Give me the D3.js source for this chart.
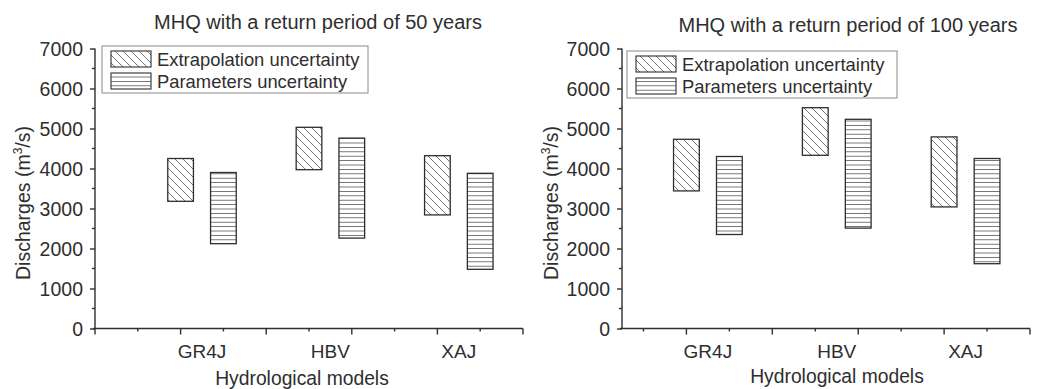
<!DOCTYPE html>
<html><head><meta charset="utf-8">
<script src="https://cdn.jsdelivr.net/npm/d3@7"></script>
<style>
body{margin:0;background:#fff;}
svg{display:block;font-family:"Liberation Sans",Arial,sans-serif;}
</style></head>
<body><svg id="c" width="1045" height="389"></svg>
<script>
const models = ["GR4J", "HBV", "XAJ"];
const seriesNames = ["Extrapolation uncertainty", "Parameters uncertainty"];
const yTicks = [0, 1000, 2000, 3000, 4000, 5000, 6000, 7000];
// 50-year return period
const ext50Low  = [3180, 3970, 2840];
const ext50High = [4250, 5030, 4320];
const par50Low  = [2120, 2260, 1480];
const par50High = [3900, 4760, 3880];
// 100-year return period
const ext100Low  = [3440, 4330, 3040];
const ext100High = [4730, 5520, 4790];
const par100Low  = [2350, 2510, 1620];
const par100High = [4300, 5230, 4250];

const svg = d3.select("#c");
const defs = svg.append("defs");
const ink = "#2e2e2e";
const hatchCol = "#666";

const pd = defs.append("pattern").attr("id","diag").attr("patternUnits","userSpaceOnUse")
  .attr("width",8).attr("height",8);
pd.append("path").attr("d","M-2,-2 L10,10 M-6,2 L2,10 M6,-2 L14,6")
  .attr("stroke",hatchCol).attr("stroke-width",0.9).attr("fill","none");
const ph = defs.append("pattern").attr("id","horiz").attr("patternUnits","userSpaceOnUse")
  .attr("width",8).attr("height",4.4);
ph.append("path").attr("d","M0,2.2 L8,2.2").attr("stroke",hatchCol).attr("stroke-width",0.9);

function panel(cfg){
  const g = svg.append("g");
  const x = d3.scaleLinear().domain(cfg.xDomain).range([cfg.x0, cfg.x1]);
  const y = d3.scaleLinear().domain([0, 7000]).range([cfg.yBottom, cfg.yTop]);

  // y axis
  const ya = g.append("g").attr("transform",`translate(${cfg.x0},0)`)
    .call(d3.axisLeft(y).tickValues(yTicks).tickSize(5).tickPadding(7).tickFormat(d3.format("d")));
  ya.select(".domain").attr("d",`M0,${y(7000)}V${y(0)}`);
  const yMinor = d3.range(500, 7000, 1000);
  ya.selectAll(".minor").data(yMinor).enter().append("line").attr("class","minor")
    .attr("x1",-3).attr("x2",0).attr("y1",d=>y(d)).attr("y2",d=>y(d));
  ya.attr("font-size",null).attr("font-family",null);
  ya.selectAll("text").attr("font-size",19.5).attr("fill",ink).attr("dy","0.35em");

  // x axis
  const xt = d3.range(Math.ceil(cfg.xDomain[0]), Math.floor(cfg.xDomain[1])+1);
  const xa = g.append("g").attr("transform",`translate(0,${cfg.yBottom})`);
  xa.append("path").attr("d",`M${cfg.x0-2},0H${cfg.x1}`);
  xa.selectAll("line").data(xt).enter().append("line")
    .attr("x1",d=>x(d)).attr("x2",d=>x(d)).attr("y1",0).attr("y2",d=>d%2===0?6:3);

  [ya, xa].forEach(a=>{
    a.selectAll("path,line").attr("stroke",ink).attr("stroke-width",1.4).attr("fill","none");
  });

  // category labels
  g.selectAll(".cat").data(models).enter().append("text")
    .attr("x",(d,i)=>x(2.5+3*i)).attr("y",cfg.yBottom+29)
    .attr("text-anchor","middle").attr("font-size",19).attr("fill",ink).text(d=>d);

  const bw = 0.6;
  function bars(lo, hi, off, pat){
    g.selectAll(null).data(models).enter().append("rect")
      .attr("x",(d,i)=>x(off+3*i-bw/2))
      .attr("width",(d,i)=>x(off+3*i+bw/2)-x(off+3*i-bw/2))
      .attr("y",(d,i)=>y(hi[i]))
      .attr("height",(d,i)=>y(lo[i])-y(hi[i]))
      .attr("fill",`url(#${pat})`).attr("stroke",ink).attr("stroke-width",1.3);
  }
  bars(cfg.extLow, cfg.extHigh, 2, "diag");
  bars(cfg.parLow, cfg.parHigh, 3, "horiz");

  // titles
  g.append("text").attr("x",cfg.titleX).attr("y",cfg.titleY).attr("text-anchor","middle")
    .attr("font-size",20).attr("fill",ink).text(cfg.title);
  g.append("text").attr("x",cfg.xTitleX).attr("y",cfg.xTitleY).attr("text-anchor","middle")
    .attr("font-size",19.3).attr("fill",ink).text("Hydrological models");
  const yl = g.append("text").attr("transform",`translate(${cfg.yTitleX},203) rotate(-90)`)
    .attr("text-anchor","middle").attr("font-size",19.5).attr("fill",ink);
  yl.append("tspan").text("Discharges (m");
  yl.append("tspan").attr("font-size",12).attr("dy",-8).text("3");
  yl.append("tspan").attr("dy",8).text("/s)");

  // legend
  const L = cfg.legend;
  g.append("rect").attr("x",L.x).attr("y",L.y).attr("width",L.w).attr("height",47)
    .attr("fill","#fff").attr("stroke","#8a8a8a").attr("stroke-width",1);
  ["diag","horiz"].forEach((p,i)=>{
    g.append("rect").attr("x",L.x+9).attr("y",L.y+5+22*i).attr("width",40).attr("height",16)
      .attr("fill",`url(#${p})`).attr("stroke",ink).attr("stroke-width",1.1);
    g.append("text").attr("x",L.x+55).attr("y",L.y+19.5+22*i).attr("font-size",18.4)
      .attr("fill",ink).text(seriesNames[i]);
  });
}

panel({xDomain:[0,10], x0:95, x1:523, yBottom:328.5, yTop:48.5,
  extLow:ext50Low, extHigh:ext50High, parLow:par50Low, parHigh:par50High,
  title:"MHQ with a return period of 50 years", titleX:318, titleY:29,
  xTitleX:302, xTitleY:385, yTitleX:30, legend:{x:102, y:46, w:266}});
panel({xDomain:[0.5,10], x0:622, x1:1030, yBottom:328.5, yTop:48.5,
  extLow:ext100Low, extHigh:ext100High, parLow:par100Low, parHigh:par100High,
  title:"MHQ with a return period of 100 years", titleX:848, titleY:32,
  xTitleX:837, xTitleY:383, yTitleX:558, legend:{x:627, y:51, w:270}});
</script></body></html>
